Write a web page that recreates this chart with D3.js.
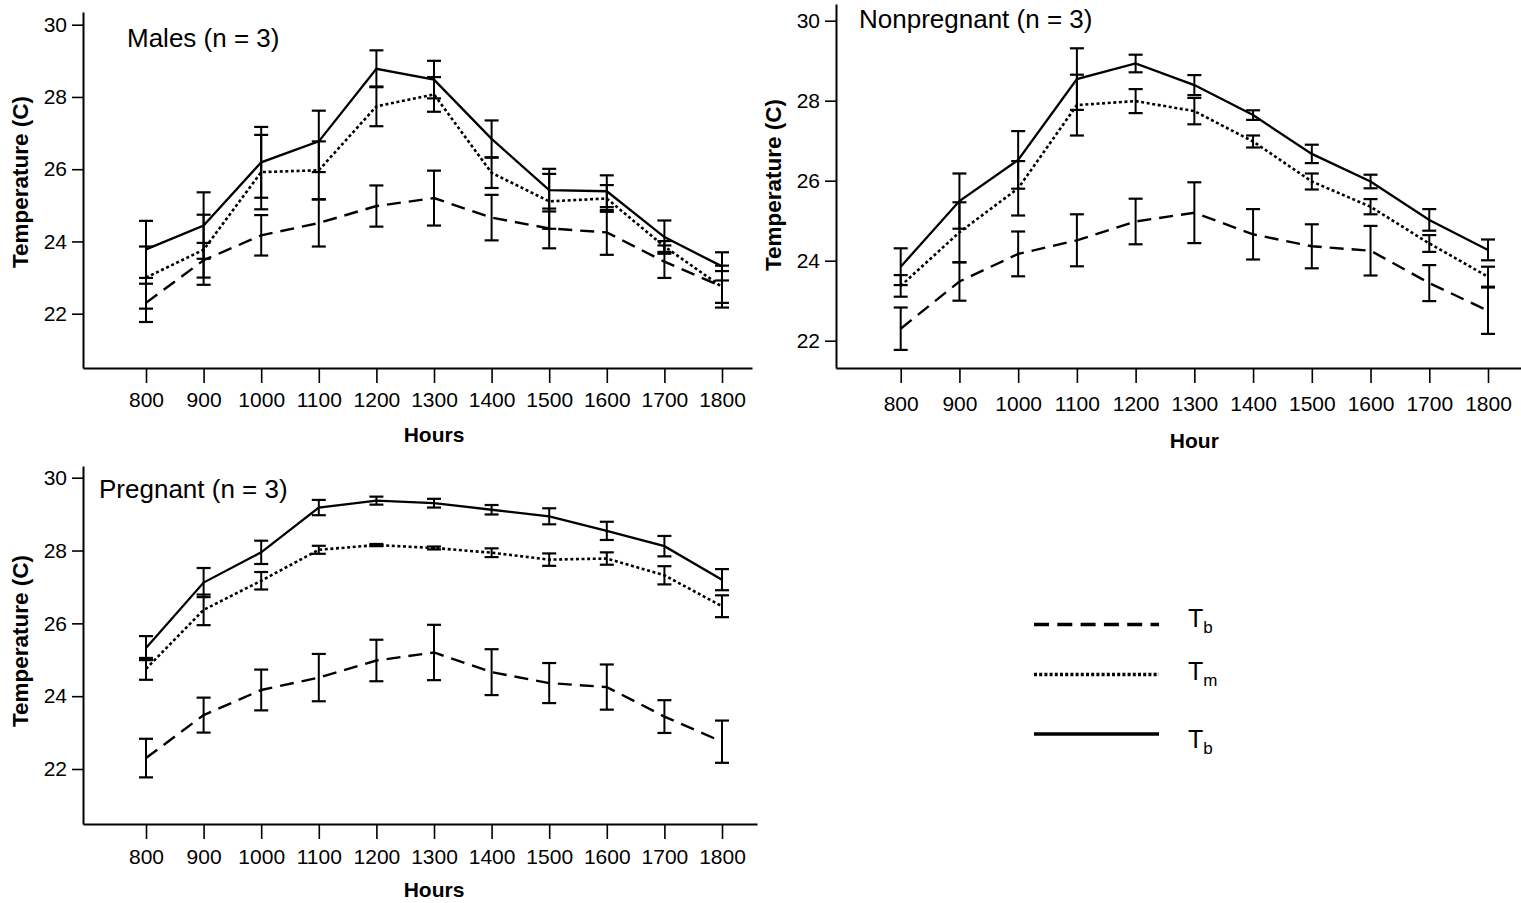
<!DOCTYPE html>
<html>
<head>
<meta charset="utf-8">
<script src="https://cdn.jsdelivr.net/npm/d3@7"></script>
<style>
  body { margin: 0; background: #fff; }
  text { font-family: "Liberation Sans", Arial, sans-serif; fill: #000; }
</style>
</head>
<body>
<script>
// hours on the x axis
var hours = [800, 900, 1000, 1100, 1200, 1300, 1400, 1500, 1600, 1700, 1800];
var yTicks = [22, 24, 26, 28, 30];

// dashed series (same in every panel)
var dashMean = [22.3, 23.48, 24.17, 24.51, 24.98, 25.2, 24.66, 24.36, 24.25, 23.44, 22.75];
var dashSE   = [0.53, 0.48, 0.56, 0.65, 0.57, 0.76, 0.63, 0.55, 0.62, 0.45, 0.58];

// males
var malesTb   = [23.78, 24.44, 26.19, 26.77, 28.78, 28.48, 26.84, 25.42, 25.39, 24.12, 23.31];
var malesTbSE = [0.79, 0.92, 0.98, 0.85, 0.51, 0.52, 0.51, 0.59, 0.44, 0.46, 0.39];
var malesTm   = [23.0, 23.77, 25.92, 25.97, 27.74, 28.07, 25.9, 25.11, 25.19, 23.86, 22.74];
var malesTmSE = [0.86, 0.97, 1.03, 0.8, 0.55, 0.48, 0.42, 0.76, 0.37, 0.15, 0.44];

// nonpregnant
var nonTb   = [23.85, 25.49, 26.52, 28.54, 28.93, 28.39, 27.64, 26.67, 25.98, 25.02, 24.27];
var nonTbSE = [0.46, 0.69, 0.72, 0.77, 0.22, 0.25, 0.12, 0.23, 0.17, 0.27, 0.26];
var nonTm   = [23.37, 24.71, 25.81, 27.89, 27.99, 27.74, 26.98, 25.98, 25.35, 24.43, 23.6];
var nonTmSE = [0.27, 0.75, 0.68, 0.76, 0.3, 0.33, 0.15, 0.2, 0.19, 0.21, 0.25];

// pregnant
var pregTb   = [25.32, 27.12, 27.95, 29.18, 29.37, 29.3, 29.12, 28.94, 28.54, 28.12, 27.2];
var pregTbSE = [0.33, 0.4, 0.32, 0.21, 0.11, 0.12, 0.13, 0.22, 0.25, 0.28, 0.29];
var pregTm   = [24.75, 26.37, 27.17, 28.02, 28.15, 28.07, 27.94, 27.75, 27.78, 27.32, 26.47];
var pregTmSE = [0.3, 0.42, 0.24, 0.11, 0.03, 0.04, 0.12, 0.17, 0.17, 0.25, 0.3];

var panelTitles = ["Males (n = 3)", "Nonpregnant (n = 3)", "Pregnant (n = 3)"];
var xTitles = ["Hours", "Hour", "Hours"];
var yTitle = "Temperature (C)";
var legendLabels = [["T", "b"], ["T", "m"], ["T", "b"]];

// line styles: dashed, dotted, solid
var styles = [
  { dash: "14,8", width: 2.4 },
  { dash: "3,2.6", width: 2.6 },
  { dash: null, width: 2.3 }
];

// pixel layout of each panel
var layout = [
  { left: 83, right: 752, top: 12, bottom: 368, x800: 146, x1800: 722, y22: 313.7, y30: 24.7,
    tx: 127, ty: 47, pad: 9, xtOff: 74, ytx: 28, yty: 182 },
  { left: 836, right: 1521, top: 4, bottom: 368, x800: 900.7, x1800: 1488, y22: 340.7, y30: 20.7,
    tx: 859, ty: 28, pad: 13, xtOff: 80, ytx: 781, yty: 185 },
  { left: 83, right: 757, top: 466, bottom: 824, x800: 146, x1800: 722, y22: 769, y30: 477.7,
    tx: 99, ty: 498, pad: 10, xtOff: 73, ytx: 28, yty: 641 }
];

var panels = [
  [ [dashMean, dashSE], [malesTm, malesTmSE], [malesTb, malesTbSE] ],
  [ [dashMean, dashSE], [nonTm, nonTmSE], [nonTb, nonTbSE] ],
  [ [dashMean, dashSE], [pregTm, pregTmSE], [pregTb, pregTbSE] ]
];

_main = () => {
  var svg = d3.select("body")
              .append("svg")
              .attr("width", 1521)
              .attr("height", 903);

  panels.forEach((series, i) => {
    var p = layout[i];
    var g = svg.append("g").attr("class", "panel");

    // scales from the tick positions, then stretched to the axis ends
    var x = d3.scaleLinear().domain([800, 1800]).range([p.x800, p.x1800]);
    x.domain([x.invert(p.left), x.invert(p.right)]).range([p.left, p.right]);
    var y = d3.scaleLinear().domain([22, 30]).range([p.y22, p.y30]);
    y.domain([y.invert(p.bottom), y.invert(p.top)]).range([p.bottom, p.top]);

    // axes
    var xa = g.append("g")
              .attr("transform", "translate(0," + p.bottom + ")")
              .call(d3.axisBottom(x).tickValues(hours).tickFormat(d3.format("d"))
                      .tickSize(15).tickSizeOuter(0).tickPadding(p.pad));
    var ya = g.append("g")
              .attr("transform", "translate(" + p.left + ",0)")
              .call(d3.axisLeft(y).tickValues(yTicks).tickFormat(d3.format("d"))
                      .tickSize(11).tickSizeOuter(0).tickPadding(5));
    [xa, ya].forEach(a => {
      a.select(".domain").attr("stroke", "#000").attr("stroke-width", 2);
      a.selectAll(".tick line").attr("stroke", "#000").attr("stroke-width", 1.6);
      a.selectAll(".tick text")
       .attr("font-size", 21)
       .attr("font-family", "'Liberation Sans', Arial, sans-serif")
       .attr("fill", "#000");
    });

    // axis titles
    g.append("text")
      .attr("x", x(1300))
      .attr("y", p.bottom + p.xtOff)
      .attr("text-anchor", "middle")
      .attr("font-size", 21)
      .attr("font-weight", "bold")
      .text(xTitles[i]);

    g.append("text")
      .attr("transform", "translate(" + p.ytx + "," + p.yty + ") rotate(-90)")
      .attr("text-anchor", "middle")
      .attr("font-size", 22.5)
      .attr("font-weight", "bold")
      .text(yTitle);

    // panel title
    g.append("text")
      .attr("x", p.tx)
      .attr("y", p.ty)
      .attr("font-size", 26)
      .text(panelTitles[i]);

    // series: error bars then lines
    series.forEach((s, k) => {
      var pts = hours.map((h, j) => ({ h: h, m: s[0][j], e: s[1][j] }));
      var bars = g.append("g").selectAll("g")
                  .data(pts)
                  .enter()
                  .append("g");
      bars.append("line")
          .attr("x1", d => x(d.h)).attr("x2", d => x(d.h))
          .attr("y1", d => y(d.m - d.e)).attr("y2", d => y(d.m + d.e))
          .attr("stroke", "#000").attr("stroke-width", 2);
      bars.append("line")
          .attr("x1", d => x(d.h) - 7).attr("x2", d => x(d.h) + 7)
          .attr("y1", d => y(d.m + d.e)).attr("y2", d => y(d.m + d.e))
          .attr("stroke", "#000").attr("stroke-width", 2.2);
      bars.append("line")
          .attr("x1", d => x(d.h) - 7).attr("x2", d => x(d.h) + 7)
          .attr("y1", d => y(d.m - d.e)).attr("y2", d => y(d.m - d.e))
          .attr("stroke", "#000").attr("stroke-width", 2.2);

      var line = d3.line().x(d => x(d.h)).y(d => y(d.m));
      g.append("path")
        .datum(pts)
        .attr("d", line)
        .attr("fill", "none")
        .attr("stroke", "#000")
        .attr("stroke-width", styles[k].width)
        .attr("stroke-dasharray", styles[k].dash);
    });
  });

  // legend
  var legY = [624.5, 674.5, 734];
  var labY = [627, 680, 748];
  var legendDash = ["15,8.3", "3,2.2", null];
  var leg = svg.append("g").attr("class", "legend");
  legendLabels.forEach((lab, i) => {
    leg.append("line")
       .attr("x1", 1034).attr("x2", 1159)
       .attr("y1", legY[i]).attr("y2", legY[i])
       .attr("stroke", "#000")
       .attr("stroke-width", 3.6)
       .attr("stroke-dasharray", legendDash[i]);
    var t = leg.append("text")
               .attr("x", 1188)
               .attr("y", labY[i])
               .attr("font-size", 25);
    t.append("tspan").text(lab[0]);
    t.append("tspan").attr("font-size", 17).attr("dy", 6).text(lab[1]);
  });
}

document.addEventListener("DOMContentLoaded", function () {
  _main();
});
</script>
</body>
</html>
